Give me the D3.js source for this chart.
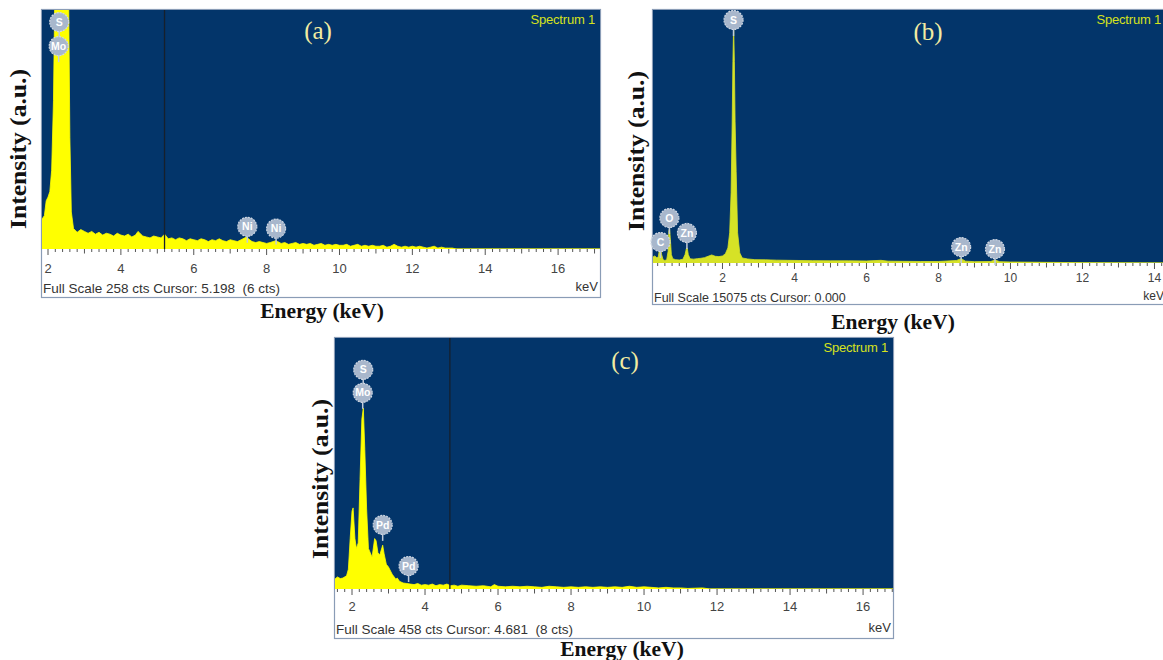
<!DOCTYPE html>
<html>
<head>
<meta charset='utf-8'>
<script src='https://d3js.org/d3.v7.min.js'></script>
<style>
  body { margin: 0; background: #fff; }
  svg { display: block; }
</style>
</head>
<body>
<div id='chart'></div>
<script>

// spectrum (a): [energy keV, counts]
var specA = [[1.83,32],[1.9,36],[1.95,52],[2.0,56],[2.05,62],[2.1,85],[2.15,160],[2.2,320],[2.3,420],[2.4,420],[2.5,380],[2.56,300],[2.6,120],[2.64,40],[2.7,22],
  [2.8,18],[2.9,21],[3.0,19],[3.1,17],[3.2,19],[3.3,16],[3.4,18],[3.5,15],[3.6,17],[3.7,16],[3.8,14],[3.9,17],[4.0,15],
  [4.1,14],[4.2,16],[4.3,13],[4.4,15],[4.47,19],[4.6,14],[4.7,13],[4.8,12],[4.9,14],[5.0,13],
  [5.1,12],[5.2,16],[5.3,11],[5.4,12],[5.5,10],[5.6,12],[5.7,11],[5.8,9],[5.9,11],[6.0,10],
  [6.1,9],[6.2,11],[6.3,10],[6.4,8],[6.5,10],[6.6,9],[6.7,11],[6.8,9],[6.9,8],[7.0,10],
  [7.1,9],[7.2,8],[7.3,10],[7.45,13],[7.5,11],[7.6,8],[7.7,7],[7.8,8],[7.9,7],[8.0,6],
  [8.1,7],[8.25,9],[8.3,8],[8.4,6],[8.5,7],[8.6,5],[8.7,6],[8.8,7],[8.9,5],[9.0,6],
  [9.1,5],[9.2,6],[9.3,4],[9.4,5],[9.5,6],[9.6,4],[9.7,5],[9.8,4],[9.9,5],[10.0,4],
  [10.1,4],[10.2,5],[10.3,3],[10.4,4],[10.5,5],[10.6,3],[10.7,4],[10.8,3],[10.9,4],[11.0,3],
  [11.1,3],[11.2,4],[11.3,2],[11.4,3],[11.5,5],[11.6,3],[11.7,2],[11.8,3],[11.9,2],[12.0,3],
  [12.1,2],[12.2,3],[12.3,2],[12.4,1],[12.5,2],[12.6,3],[12.7,1],[12.8,2],[12.9,1],[13.0,1],
  [13.1,1],[13.2,0],[17.15,0]];

// spectrum (b)
var specB = [[0.07,360],[0.12,420],[0.18,300],[0.22,400],[0.25,820],[0.28,900],[0.31,500],[0.35,200],[0.4,150],[0.45,200],
  [0.49,700],[0.51,1900],[0.53,2050],[0.55,1500],[0.58,500],[0.62,250],[0.7,200],[0.8,180],[0.9,220],[0.96,500],
  [1.0,880],[1.02,900],[1.05,500],[1.1,250],[1.2,230],[1.3,260],[1.4,280],[1.5,320],[1.6,400],[1.7,480],
  [1.8,400],[1.9,380],[2.0,420],[2.08,550],[2.15,900],[2.2,1800],[2.24,4200],[2.27,8400],[2.29,12000],[2.31,14150],
  [2.33,12000],[2.35,8450],[2.38,5450],[2.42,1800],[2.48,600],[2.55,300],[2.7,240],[2.9,200],[3.2,190],[3.5,170],
  [3.8,160],[4.1,150],[4.5,140],[5.0,130],[5.5,130],[6.0,120],[6.4,160],[6.6,110],[7.0,100],[7.5,90],
  [8.0,90],[8.5,150],[8.63,260],[8.75,110],[9.0,80],[9.45,90],[9.57,180],[9.7,80],[10.0,60],[11.0,40],
  [12.0,20],[13.0,10],[14.43,0]];

// spectrum (c)
var specC = [[1.53,18],[1.6,22],[1.68,19],[1.75,20],[1.85,24],[1.9,36],[1.95,92],[2.0,142],[2.03,148],[2.08,92],
  [2.12,74],[2.17,84],[2.22,200],[2.27,310],[2.31,330],[2.35,255],[2.4,146],[2.45,74],[2.55,58],[2.62,92],
  [2.66,88],[2.71,66],[2.76,62],[2.84,80],[2.88,64],[2.94,45],[3.0,40],[3.1,27],[3.2,18],[3.24,20],
  [3.3,14],[3.4,11],[3.5,10],[3.6,9],[3.7,8],[3.8,10],[3.9,7],[4.0,8],[4.1,7],[4.2,9],
  [4.3,6],[4.4,8],[4.5,7],[4.6,9],[4.7,6],[4.8,7],[4.9,5],[5.0,7],[5.2,6],[5.4,5],
  [5.6,6],[5.8,4],[5.9,8],[6.0,5],[6.2,4],[6.4,5],[6.6,4],[6.8,5],[7.0,4],[7.2,3],
  [7.4,5],[7.6,4],[7.8,3],[8.0,4],[8.2,3],[8.4,4],[8.6,3],[8.8,4],[9.0,3],[9.2,4],
  [9.4,3],[9.6,5],[9.8,3],[10.0,4],[10.2,3],[10.4,2],[10.6,3],[10.8,2],[11.0,2],[11.2,1],
  [11.6,2],[11.8,0],[16.82,0]];

// element labels: [symbol, energy keV, counts at label centre]
var markersA = [['S',2.307,245],['Mo',2.293,219],['Ni',7.47,24],['Ni',8.26,22]];
var markersB = [['S',2.307,14480],['C',0.277,1250],['O',0.525,2680],['Zn',1.012,1790],['Zn',8.63,950],['Zn',9.57,830]];
var markersC = [['S',2.307,400],['Mo',2.293,358],['Pd',2.84,117],['Pd',3.55,42]];

var ticksA = [2,4,6,8,10,12,14,16];
var ticksB = [2,4,6,8,10,12,14];
var ticksC = [2,4,6,8,10,12,14,16];

var panels = [
  { name: '(a)', spec: specA, markers: markersA, ticks: ticksA, full: 258, cursor: 5.198,
    info: 'Full Scale 258 cts Cursor: 5.198  (6 cts)', domain: [1.835, 17.15], fill: '#ffff00',
    x0: 42, x1: 600, top: 10, bot: 249, boxBot: 297, tickDy: 24, infoDy: 4, fs: 13.5,
    labelPos: [318, 39], yTitle: [18, 149], xTitle: [322, 318] },
  { name: '(b)', spec: specB, markers: markersB, ticks: ticksB, full: 15075, cursor: null,
    info: 'Full Scale 15075 cts Cursor: 0.000', domain: [0.07, 14.32], fill: '#d6e226',
    x0: 653, x1: 1166, top: 10, bot: 263, boxBot: 304, tickDy: 19, infoDy: 2, fs: 12.5,
    labelPos: [928, 40], yTitle: [636, 151], xTitle: [893, 329] },
  { name: '(c)', spec: specC, markers: markersC, ticks: ticksC, full: 458, cursor: 4.681,
    info: 'Full Scale 458 cts Cursor: 4.681  (8 cts)', domain: [1.534, 16.82], fill: '#ffff00',
    x0: 335, x1: 893, top: 338, bot: 589, boxBot: 638, tickDy: 22, infoDy: 4, fs: 13.5,
    labelPos: [625, 369], yTitle: [320, 479], xTitle: [622, 656] }
];

var sans = 'Liberation Sans, Arial, sans-serif';
var serif = 'Liberation Serif, Times New Roman, serif';

var svg = d3.select('#chart').append('svg')
    .attr('width', 1163)
    .attr('height', 660);

var defs = svg.append('defs');

panels.forEach(function(p, i) {
    var g = svg.append('g');
    var x = d3.scaleLinear().domain(p.domain).range([p.x0, p.x1]);
    var y = d3.scaleLinear().domain([0, p.full]).range([p.bot, p.top]);

    // white frame + blue plot area
    g.append('rect')
        .attr('x', p.x0 - 0.5).attr('y', p.top - 0.5)
        .attr('width', p.x1 - p.x0 + 1).attr('height', p.boxBot - p.top + 1)
        .attr('fill', '#fff').attr('stroke', '#8a9cb6').attr('stroke-width', 1.2);
    g.append('rect')
        .attr('x', p.x0).attr('y', p.top)
        .attr('width', p.x1 - p.x0).attr('height', p.bot - p.top)
        .attr('fill', '#03356a');

    defs.append('clipPath').attr('id', 'clip' + i)
      .append('rect')
        .attr('x', p.x0).attr('y', p.top)
        .attr('width', p.x1 - p.x0).attr('height', p.bot - p.top);

    var area = d3.area()
        .x(function(d) { return x(d[0]); })
        .y0(y(0))
        .y1(function(d) { return y(d[1]); });

    g.append('path')
        .datum(p.spec)
        .attr('clip-path', 'url(#clip' + i + ')')
        .attr('fill', p.fill)
        .attr('stroke', p.fill)
        .attr('stroke-width', 0.8)
        .attr('d', area);

    if (p.cursor !== null) {
        g.append('line')
            .attr('x1', x(p.cursor)).attr('x2', x(p.cursor))
            .attr('y1', p.top).attr('y2', p.bot)
            .attr('stroke', '#16202c').attr('stroke-width', 1.3);
    }

    // minor / major ticks under the plot
    var minor = d3.range(Math.ceil(p.domain[0] * 5), Math.floor(p.domain[1] * 5) + 1).map(function(k) { return k / 5; });
    g.selectAll('.tk').data(minor).enter().append('line')
        .attr('x1', function(d) { return x(d); }).attr('x2', function(d) { return x(d); })
        .attr('y1', p.bot)
        .attr('y2', function(d) {
            var r = Math.round(d * 5);
            if (r % 10 === 0) return p.bot + 6;
            if (r % 5 === 0) return p.bot + 4.5;
            return p.bot + 3;
        })
        .attr('stroke', '#555').attr('stroke-width', 1);

    g.selectAll('.tl').data(p.ticks).enter().append('text')
        .attr('x', function(d) { return x(d); })
        .attr('y', p.bot + p.tickDy)
        .attr('text-anchor', 'middle')
        .attr('font-family', sans)
        .attr('font-size', p.fs - 0.5)
        .attr('fill', '#444')
        .text(function(d) { return d; });

    g.append('text')
        .attr('x', p.x0 + 1).attr('y', p.boxBot - p.infoDy)
        .attr('font-family', sans)
        .attr('font-size', p.fs).attr('fill', '#333')
        .style('white-space', 'pre')
        .text(p.info);

    g.append('text')
        .attr('x', p.x1 - 2).attr('y', p.boxBot - p.infoDy - 2)
        .attr('text-anchor', 'end')
        .attr('font-family', sans)
        .attr('font-size', p.fs - 0.5).attr('fill', '#333')
        .text('keV');

    g.append('text')
        .attr('x', p.x1 - 5).attr('y', p.top + 14)
        .attr('text-anchor', 'end')
        .attr('font-family', sans)
        .attr('font-size', 13).attr('letter-spacing', -0.2)
        .attr('fill', '#d6e21c')
        .text('Spectrum 1');

    g.append('text')
        .attr('x', p.labelPos[0]).attr('y', p.labelPos[1])
        .attr('text-anchor', 'middle')
        .attr('font-family', serif)
        .attr('font-size', 25).attr('fill', '#f2eca2')
        .text(p.name);

    // element markers
    var mk = g.selectAll('.mk').data(p.markers).enter().append('g')
        .attr('transform', function(d) { return 'translate(' + x(d[1]) + ',' + y(d[2]) + ')'; });
    mk.append('line')
        .attr('x1', 0).attr('x2', 0).attr('y1', 8).attr('y2', 16)
        .attr('stroke', '#c2ccdb').attr('stroke-width', 1.5);
    mk.append('circle')
        .attr('r', 9.5)
        .attr('fill', '#a8b7cc')
        .attr('stroke', '#cfd7e3').attr('stroke-width', 1.2)
        .attr('stroke-dasharray', '2,1');
    mk.append('text')
        .attr('text-anchor', 'middle')
        .attr('dy', '0.35em')
        .attr('font-family', sans)
        .attr('font-size', 10.5).attr('font-weight', 'bold')
        .attr('fill', '#fff')
        .text(function(d) { return d[0]; });

    // axis titles
    svg.append('text')
        .attr('transform', 'translate(' + p.yTitle[0] + ',' + p.yTitle[1] + ') rotate(-90)')
        .attr('text-anchor', 'middle')
        .attr('dy', '0.35em')
        .attr('font-family', serif)
        .attr('font-size', 23).attr('font-weight', 'bold')
        .attr('textLength', 160).attr('lengthAdjust', 'spacingAndGlyphs')
        .attr('fill', '#111')
        .text('Intensity (a.u.)');

    svg.append('text')
        .attr('x', p.xTitle[0]).attr('y', p.xTitle[1])
        .attr('text-anchor', 'middle')
        .attr('font-family', serif)
        .attr('font-size', 21.5).attr('font-weight', 'bold')
        .attr('fill', '#111')
        .text('Energy (keV)');
});

</script>
</body>
</html>
